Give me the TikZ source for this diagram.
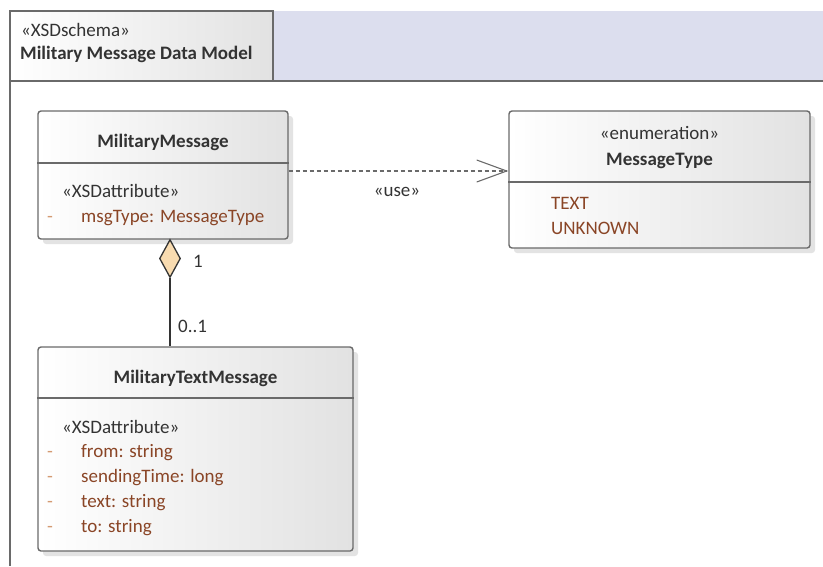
\documentclass[tikz,border=0pt]{standalone}
\usepackage{fontspec}
\setmainfont{Carlito}
\usetikzlibrary{arrows.meta,shapes.geometric,shadows}
\definecolor{edgegray}{HTML}{6A6A6A}
\definecolor{inkgray}{HTML}{333333}
\definecolor{attrbrown}{HTML}{8A4526}
\definecolor{dashbrown}{HTML}{D49A72}
\definecolor{fillend}{HTML}{E2E2E2}
\definecolor{tabblue}{HTML}{DCDEEE}
\definecolor{aggfill}{HTML}{F8DBB0}
\begin{document}
\begin{tikzpicture}[x=1pt,y=-1pt,
  classbox/.style={draw=edgegray, line width=1.4pt, rounded corners=3pt,
    left color=white, right color=fillend, inner sep=0pt,
    drop shadow={shadow xshift=5pt, shadow yshift=-5pt, fill=black!22}},
  sepline/.style={draw=edgegray, line width=1.4pt},
  txt/.style={font=\fontsize{19}{22}\selectfont, text=inkgray, inner sep=0pt, anchor=base},
  title/.style={txt, font=\fontsize{19}{22}\selectfont\bfseries},
  attr/.style={txt, text=attrbrown, anchor=base west},
  vis/.style={txt, text=dashbrown, anchor=base west},
  stereo/.style={txt, anchor=base west},
  usedep/.style={draw=edgegray, line width=1.1pt, dash pattern=on 4pt off 3pt,
    -{Straight Barb[length=30pt, width=22pt, line width=1.1pt]}},
  aggline/.style={draw=inkgray, line width=1.5pt},
  aggdiamond/.style={diamond, draw=inkgray, line width=1.3pt, fill=aggfill,
    minimum width=21pt, minimum height=38pt, inner sep=0pt, aspect=0.55}
]
\useasboundingbox (0,0) rectangle (823,566);

% package frame: tab and header strip
\fill[tabblue] (273,11) rectangle (823,81);
\node[draw=edgegray, line width=1.4pt, left color=white, right color=fillend,
  minimum width=263pt, minimum height=70pt, inner sep=0pt] (tab) at (141.5,46) {};
\draw[edgegray, line width=1.4pt] (10,81) -- (823,81);
\draw[edgegray, line width=1.4pt] (10,81) -- (10,566);
\node[stereo] (tabst) at (21,36) {«XSDschema»};
\node[title, anchor=base west] (tabname) at (20,59) {Military Message Data Model};

% MilitaryMessage
\node[classbox, minimum width=250pt, minimum height=128pt] (mm) at (163,175) {};
\coordinate (mmsep) at (0,163);
\draw[sepline] (mm.west |- mmsep) -- (mm.east |- mmsep);
\node[title] (mmname) at (163,147) {MilitaryMessage};
\node[stereo] (mmst) at (62,197) {«XSDattribute»};
\node[vis] (mmv1) at (47,222) {-};
\node[attr] (mma1) at (81,222) {msgType: MessageType};

% MessageType enumeration
\node[classbox, minimum width=301pt, minimum height=137pt] (mt) at (659.5,179.5) {};
\coordinate (mtsep) at (0,182);
\draw[sepline] (mt.west |- mtsep) -- (mt.east |- mtsep);
\node[txt] (mtst) at (659.5,139) {«enumeration»};
\node[title] (mtname) at (659.5,165) {MessageType};
\node[attr] (mtl1) at (551,209) {TEXT};
\node[attr] (mtl2) at (551,234) {UNKNOWN};

% MilitaryTextMessage
\node[classbox, minimum width=315pt, minimum height=204pt] (mtm) at (195.5,449) {};
\coordinate (mtmsep) at (0,398);
\draw[sepline] (mtm.west |- mtmsep) -- (mtm.east |- mtmsep);
\node[title] (mtmname) at (195.5,383) {MilitaryTextMessage};
\node[stereo] (mtmst) at (62,433) {«XSDattribute»};
\foreach \y/\nm/\t in {457/a/{from: string}, 482/b/{sendingTime: long},
                       507/c/{text: string}, 532/d/{to: string}}{
  \node[vis] (mtmv\nm) at (47,\y) {-};
  \node[attr] (mtma\nm) at (81,\y) {\t};
}

% usage dependency
\coordinate (usey) at (0,171);
\draw[usedep] (mm.east |- usey) -- (mt.west |- usey);
\node[txt] (uselbl) at (397,196) {«use»};

% aggregation
\node[aggdiamond] (agg) at (170,258.5) {};
\draw[aggline] (agg.south) -- (agg.south |- mtm.north);
\node[txt] (mult1) at (198,267) {1};
\node[txt, anchor=base west] (mult2) at (178,332) {0..1};
\end{tikzpicture}
\end{document}
